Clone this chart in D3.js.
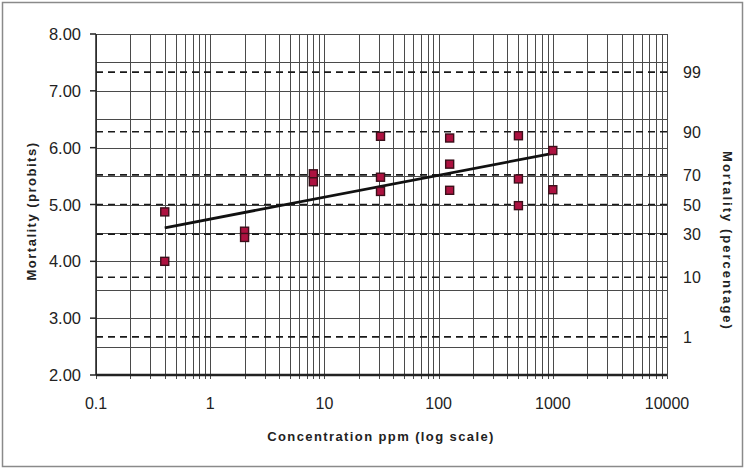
<!DOCTYPE html>
<html>
<head>
<meta charset="utf-8">
<script src="https://cdn.jsdelivr.net/npm/d3@7"></script>
<style>
body{margin:0;background:#fff;}
text{font-family:"Liberation Sans",Arial,sans-serif;fill:#222;}
</style>
</head>
<body>
<div id="chart"></div>
<script>
// concentrations (ppm) and probit mortality
var doses = [0.4, 0.4, 2, 2, 8, 8, 31, 31, 31, 125, 125, 125, 500, 500, 500, 1000, 1000];
var probits = [4.87, 4.00, 4.53, 4.42, 5.54, 5.40, 6.20, 5.48, 5.23, 6.17, 5.71, 5.25, 6.21, 5.45, 4.98, 5.95, 5.26];
// fitted line ends
var fitX = [0.4, 1000];
var fitY = [4.59, 5.90];
var yTicks = [2, 3, 4, 5, 6, 7, 8];
var xTicks = [0.1, 1, 10, 100, 1000, 10000];
var pctLabels = ["1", "10", "30", "50", "70", "90", "99"];
var pctProbits = [2.67, 3.72, 4.48, 5.00, 5.52, 6.28, 7.33];

var W = 746, H = 470;
var pLeft = 96, pRight = 667, pTop = 34, pBottom = 375;

var svg = d3.select("#chart").append("svg").attr("width", W).attr("height", H);
svg.append("rect").attr("x", 2.5).attr("y", 2.5).attr("width", 740).attr("height", 464)
	.attr("fill", "#fff").attr("stroke", "#8a8a8a").attr("stroke-width", 1.5);

var x = d3.scaleLog().domain([0.1, 10000]).range([pLeft, pRight]);
var y = d3.scaleLinear().domain([2, 8]).range([pBottom, pTop]);

// minor log gridlines
var minor = [];
for (var k = -1; k < 4; k++) {
	for (var m = 1; m < 10; m++) {
		minor.push(m * Math.pow(10, k));
	}
}
minor.push(10000);
var g = svg.append("g");
g.selectAll("line.vg").data(minor).enter().append("line").attr("class", "vg")
	.attr("x1", function(d){ return Math.round(x(d)) + 0.5; })
	.attr("x2", function(d){ return Math.round(x(d)) + 0.5; })
	.attr("y1", pTop).attr("y2", pBottom + 4)
	.attr("stroke", "#4a4a4a").attr("stroke-width", 1);

// horizontal gridlines every half probit
var hLines = d3.range(2, 8.01, 0.5);
g.selectAll("line.hg").data(hLines).enter().append("line").attr("class", "hg")
	.attr("x1", pLeft).attr("x2", pRight)
	.attr("y1", function(d){ return Math.round(y(d)) + 0.5; })
	.attr("y2", function(d){ return Math.round(y(d)) + 0.5; })
	.attr("stroke", "#4a4a4a").attr("stroke-width", 1);

// dashed percentage lines
g.selectAll("line.pd").data(pctProbits).enter().append("line").attr("class", "pd")
	.attr("x1", pLeft).attr("x2", pRight + 5)
	.attr("y1", function(d){ return y(d); })
	.attr("y2", function(d){ return y(d); })
	.attr("stroke", "#1a1a1a").attr("stroke-width", 1.7).attr("stroke-dasharray", "7,5");

// axes
svg.append("line").attr("x1", pLeft).attr("x2", pLeft).attr("y1", pTop).attr("y2", pBottom)
	.attr("stroke", "#222").attr("stroke-width", 1.5);
svg.append("line").attr("x1", pLeft).attr("x2", pRight).attr("y1", pBottom).attr("y2", pBottom)
	.attr("stroke", "#222").attr("stroke-width", 2.5);

svg.selectAll("line.yt").data(yTicks).enter().append("line").attr("class", "yt")
	.attr("x1", pLeft - 6).attr("x2", pLeft)
	.attr("y1", function(d){ return y(d); }).attr("y2", function(d){ return y(d); })
	.attr("stroke", "#222").attr("stroke-width", 1.5);
svg.selectAll("text.yl").data(yTicks).enter().append("text").attr("class", "yl")
	.attr("x", 81).attr("y", function(d){ return y(d) + 6; })
	.attr("text-anchor", "end").attr("font-size", "16.5px")
	.text(function(d){ return d.toFixed(2); });

svg.selectAll("text.xl").data(xTicks).enter().append("text").attr("class", "xl")
	.attr("x", function(d){ return x(d); }).attr("y", 409)
	.attr("text-anchor", "middle").attr("font-size", "16px")
	.text(function(d){ return String(d); });

svg.selectAll("text.pl").data(pctLabels).enter().append("text").attr("class", "pl")
	.attr("x", 683).attr("y", function(d, i){ return y(pctProbits[i]) + 6; })
	.attr("font-size", "16px")
	.text(function(d){ return d; });

// titles
svg.append("text").attr("transform", "translate(36,211) rotate(-90)")
	.attr("text-anchor", "middle").attr("font-size", "13px").attr("font-weight", "bold")
	.attr("letter-spacing", "1.5px").text("Mortality (probits)");
svg.append("text").attr("transform", "translate(723,241) rotate(90)")
	.attr("text-anchor", "middle").attr("font-size", "13px").attr("font-weight", "bold")
	.attr("letter-spacing", "2px").text("Mortality (percentage)");
svg.append("text").attr("x", 381).attr("y", 441)
	.attr("text-anchor", "middle").attr("font-size", "13px").attr("font-weight", "bold")
	.attr("letter-spacing", "1.4px").text("Concentration ppm (log scale)");

// fitted line
svg.append("line")
	.attr("x1", x(fitX[0])).attr("y1", y(fitY[0]))
	.attr("x2", x(fitX[1])).attr("y2", y(fitY[1]))
	.attr("stroke", "#111").attr("stroke-width", 2.8);

// points
svg.selectAll("rect.pt").data(doses).enter().append("rect").attr("class", "pt")
	.attr("x", function(d){ return x(d) - 4; })
	.attr("y", function(d, i){ return y(probits[i]) - 4; })
	.attr("width", 8).attr("height", 8)
	.attr("fill", "#ad1240").attr("stroke", "#3b0f1a").attr("stroke-width", 1.4);
</script>
</body>
</html>
